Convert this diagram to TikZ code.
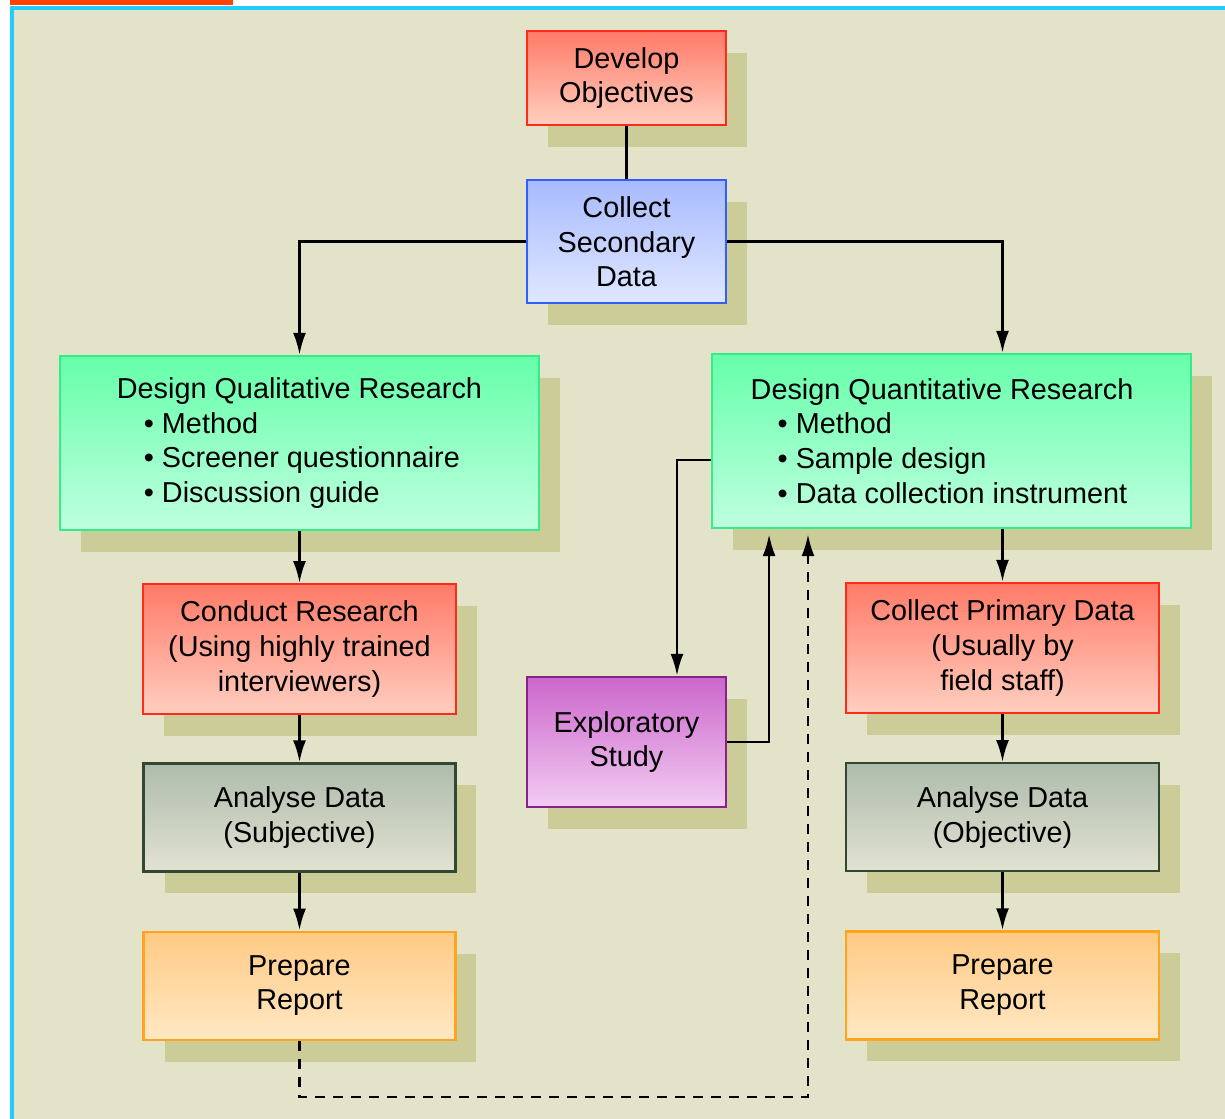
\documentclass[tikz,border=0pt]{standalone}
\usepackage{fontspec}
\setmainfont{Liberation Sans}
\usepackage{tikz}
\usetikzlibrary{positioning}
\usetikzlibrary{arrows.meta}
\usetikzlibrary{shadows}

\definecolor{bgc}{HTML}{E3E3C9}
\definecolor{shadc}{HTML}{CCCC99}
\definecolor{framec}{HTML}{22CCFF}
\definecolor{barc}{HTML}{FF4400}
\definecolor{redl}{HTML}{FF2A1A}
\definecolor{redt}{HTML}{FF7A68}
\definecolor{redb}{HTML}{FFCFC0}
\definecolor{bluel}{HTML}{2F5FFF}
\definecolor{bluet}{HTML}{A8BAFF}
\definecolor{blueb}{HTML}{E0E8FF}
\definecolor{greenl}{HTML}{33EE88}
\definecolor{greent}{HTML}{66FFAA}
\definecolor{greenb}{HTML}{BFFFDF}
\definecolor{grayl}{HTML}{334833}
\definecolor{grayt}{HTML}{AEBCAC}
\definecolor{grayb}{HTML}{E2E2D2}
\definecolor{orl}{HTML}{FFA41C}
\definecolor{ort}{HTML}{FFCA84}
\definecolor{orb}{HTML}{FFE8C4}
\definecolor{purl}{HTML}{882288}
\definecolor{purt}{HTML}{CC66CC}
\definecolor{purb}{HTML}{F2CCF2}

\begin{document}
\begin{tikzpicture}[x=0.02cm, y=-0.02cm,
    box/.style={draw, line width=0.045cm, align=center, inner sep=0pt,
        drop shadow={shadow xshift=0.42cm, shadow yshift=-0.44cm, fill=shadc, opacity=1},
        font=\fontsize{16.4}{19.8}\selectfont},
    redbox/.style={box, draw=redl, top color=redt, bottom color=redb},
    bluebox/.style={box, draw=bluel, top color=bluet, bottom color=blueb},
    greenbox/.style={box, draw=greenl, top color=greent, bottom color=greenb, align=left,
        minimum width=9.58cm, minimum height=3.48cm},
    graybox/.style={box, draw=grayl, top color=grayt, bottom color=grayb},
    orbox/.style={box, draw=orl, top color=ort, bottom color=orb},
    purbox/.style={box, draw=purl, top color=purt, bottom color=purb},
    link/.style={line width=0.055cm, -{Latex[length=0.44cm, width=0.26cm]}},
    dashlink/.style={link, dash pattern=on 0.2cm off 0.16cm},
]
    \useasboundingbox (0,0) rectangle (1225,1119);

    % frame
    \fill[white] (0,0) rectangle (1225,1119);
    \fill[bgc] (12,8) rectangle (1225,1119);
    \draw[framec, line width=0.08cm] (12,1119) -- (12,8) -- (1225,8);
    \fill[barc] (10,0) rectangle (233,5);

    % boxes
    \node[redbox, minimum width=3.98cm, minimum height=1.88cm] (obj) at (626.5,78) {Develop\\Objectives};
    \node[bluebox, minimum width=3.98cm, minimum height=2.46cm, below=1.06cm of obj] (sec) {Collect\\Secondary\\Data};

    \node[greenbox] (qual) at (299.5,443) {Design Qualitative Research\\
        \hspace*{0.54cm}\textbullet\ Method\\
        \hspace*{0.54cm}\textbullet\ Screener questionnaire\\
        \hspace*{0.54cm}\textbullet\ Discussion guide};
    \node[greenbox] (quant) at (951.5,441) {Design Quantitative Research\\
        \hspace*{0.54cm}\textbullet\ Method\\
        \hspace*{0.54cm}\textbullet\ Sample design\\
        \hspace*{0.54cm}\textbullet\ Data collection instrument\hspace*{0.5cm}};

    \node[redbox, minimum width=6.26cm, minimum height=2.6cm, below=1.04cm of qual] (cond) {Conduct Research\\(Using highly trained\\interviewers)};
    \node[graybox, minimum width=6.24cm, minimum height=2.16cm, below=0.94cm of cond] (anaS) {Analyse Data\\(Subjective)};
    \node[orbox, minimum width=6.24cm, minimum height=2.16cm, below=1.16cm of anaS] (repL) {Prepare\\Report};

    \node[purbox, minimum width=3.98cm, minimum height=2.6cm] (expl) at (626.5,742) {Exploratory\\Study};

    \node[redbox, minimum width=6.26cm, minimum height=2.6cm] (prim) at (1002.5,648) {Collect Primary Data\\(Usually by\\field staff)};
    \node[graybox, minimum width=6.26cm, minimum height=2.16cm, below=0.96cm of prim] (anaO) {Analyse Data\\(Objective)};
    \node[orbox, minimum width=6.26cm, minimum height=2.16cm, below=1.16cm of anaO] (repR) {Prepare\\Report};

    % helper points
    \coordinate[xshift=0.84cm] (up) at (expl.east);
    \coordinate (dn) at (808,1097);

    % connectors
    \draw[line width=0.055cm] (obj) -- (sec);
    \draw[link] (sec.west) -| (qual.north);
    \draw[link] (sec.east) -| (quant.north -| prim.north);
    \draw[link] (qual) -- (cond);
    \draw[link] (cond) -- (anaS);
    \draw[link] (anaS) -- (repL);
    \draw[link] (quant.south -| prim.north) -- (prim.north);
    \draw[link] (prim) -- (anaO);
    \draw[link] (anaO) -- (repR);
    \draw[link] ([yshift=-0.38cm]quant.west) -| ([xshift=1.01cm]expl.north);
    \draw[link, shorten >=0.1cm] (expl.east) -| (up |- quant.south);
    \draw[dashlink, shorten >=0.1cm] (repL.south) |- (dn) -- (dn |- quant.south);
\end{tikzpicture}
\end{document}
